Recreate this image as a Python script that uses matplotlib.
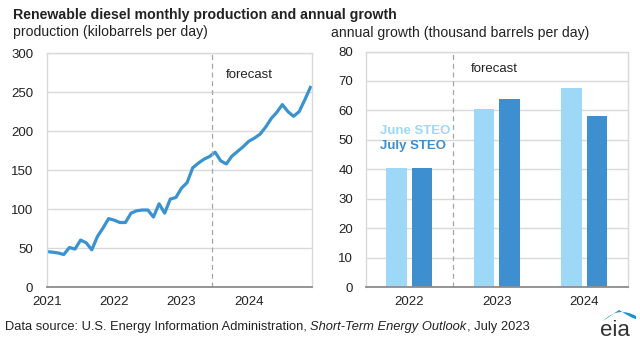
import numpy as np
import matplotlib.pyplot as plt
from matplotlib.path import Path
from matplotlib.patches import PathPatch

plt.rcParams["font.family"] = ["Liberation Sans", "DejaVu Sans"]

# monthly renewable diesel production, Jan 2021 - Dec 2024 (kb/d)
prod_start_year = 2021
production = [
    45.7, 45, 44, 42, 51, 49, 60.5, 57, 48, 65, 76, 88,
    86, 83, 83, 95, 98, 99, 99, 90, 107, 95, 113, 115,
    127, 134, 153, 159, 164, 167.5, 173, 162, 158, 168, 174, 180,
    187, 191, 196, 205, 216, 224, 234, 225, 219, 225, 240, 256,
]
forecast_start = 2023.46

# annual growth (thousand b/d)
years = ["2022", "2023", "2024"]
june_steo = [40.5, 60.5, 67.6]
july_steo = [40.6, 63.9, 58.0]

LINE_BLUE = "#3a93d0"
LIGHT_BLUE = "#9dd8f6"
DARK_BLUE = "#3d8fcf"
GRID = "#d9d9d9"
TXT = "#222222"

fig = plt.figure(figsize=(6.4, 3.45), dpi=100)
ax1 = fig.add_axes([0.0734, 0.1672, 0.414, 0.679])
ax2 = fig.add_axes([0.5714, 0.1672, 0.4098, 0.6835])


def style(ax, ypad):
    ax.set_axisbelow(True)
    ax.grid(axis="y", color=GRID, linewidth=1)
    for side in ["top", "right", "left"]:
        ax.spines[side].set_color(GRID)
        ax.spines[side].set_linewidth(1)
    ax.spines["bottom"].set_color("#8c8c8c")
    ax.spines["bottom"].set_linewidth(1.3)
    ax.tick_params(length=0, labelsize=9.5, colors=TXT)
    ax.tick_params(axis="y", pad=ypad)
    ax.tick_params(axis="x", pad=6)


# left: monthly production
x = prod_start_year + np.arange(len(production)) / 12
ax1.plot(x, production, color=LINE_BLUE, linewidth=2.3, solid_joinstyle="round")
ax1.axvline(forecast_start, color="#a6a6a6", linestyle=(0, (4, 3)), linewidth=0.9)
ax1.text(2023.66, 272, "forecast", fontsize=9.5, color=TXT, va="center")
ax1.set_xlim(2021, 2024.94)
ax1.set_ylim(0, 300)
ax1.set_yticks(range(0, 301, 50))
ax1.set_xticks([2021, 2022, 2023, 2024])
ax1.set_xticklabels(["2021", "2022", "2023", "2024"])
style(ax1, 10)

# right: annual growth bars
pos = np.arange(len(years))
w = 0.235
ax2.bar(pos - 0.145, june_steo, width=w, color=LIGHT_BLUE)
ax2.bar(pos + 0.145, july_steo, width=w, color=DARK_BLUE)
ax2.axvline(0.5, color="#a6a6a6", linestyle=(0, (4, 3)), linewidth=0.9)
ax2.text(0.7, 74.2, "forecast", fontsize=9.5, color=TXT, va="center")
ax2.text(-0.34, 52.9, "June STEO", fontsize=9.5, fontweight="bold",
         color=LIGHT_BLUE, va="center")
ax2.text(-0.34, 47.9, "July STEO", fontsize=9.5, fontweight="bold",
         color=DARK_BLUE, va="center")
ax2.set_xlim(-0.5, 2.5)
ax2.set_ylim(0, 80)
ax2.set_yticks(range(0, 81, 10))
ax2.set_xticks(pos)
ax2.set_xticklabels(years)
style(ax2, 9)

# titles
fig.text(13 / 640, 1 - 15 / 345, "Renewable diesel monthly production and annual growth",
         fontsize=10.2, fontweight="bold", color=TXT, va="center")
fig.text(13 / 640, 1 - 32 / 345, "production (kilobarrels per day)",
         fontsize=10.1, color=TXT, va="center")
fig.text(331 / 640, 1 - 33 / 345, "annual growth (thousand barrels per day)",
         fontsize=10.1, color=TXT, va="center")

# source line with italic title
t1 = fig.text(5 / 640, 1 - 327 / 345,
              "Data source: U.S. Energy Information Administration, ",
              fontsize=9.3, color=TXT, va="center")
t2 = fig.text(0, 0, "Short-Term Energy Outlook", fontsize=9.3, color=TXT,
              style="italic", va="center")
t3 = fig.text(0, 0, ", July 2023", fontsize=9.3, color=TXT, va="center")
fig.canvas.draw()
r = fig.canvas.get_renderer()
bb1 = t1.get_window_extent(r).transformed(fig.transFigure.inverted())
t2.set_position((bb1.x1, t1.get_position()[1]))
bb2 = t2.get_window_extent(r).transformed(fig.transFigure.inverted())
t3.set_position((bb2.x1, t1.get_position()[1]))

# eia logo
fig.text(615 / 640, 1 - 328 / 345, "eia", fontsize=16, color="#333333",
         ha="center", va="center_baseline")
W, H = 640, 345
pts = [(603, 321), (618, 306), (636, 316), (636, 319), (633, 319),
       (619, 310), (603, 321)]
codes = [Path.MOVETO, Path.CURVE3, Path.CURVE3, Path.LINETO,
         Path.CURVE3, Path.CURVE3, Path.CLOSEPOLY]
verts = [(px / W, 1 - py / H) for px, py in pts]
fig.patches.append(PathPatch(Path(verts, codes), transform=fig.transFigure,
                             facecolor="#1d8fcf", edgecolor="none"))

fig.savefig("out.png", dpi=100)
